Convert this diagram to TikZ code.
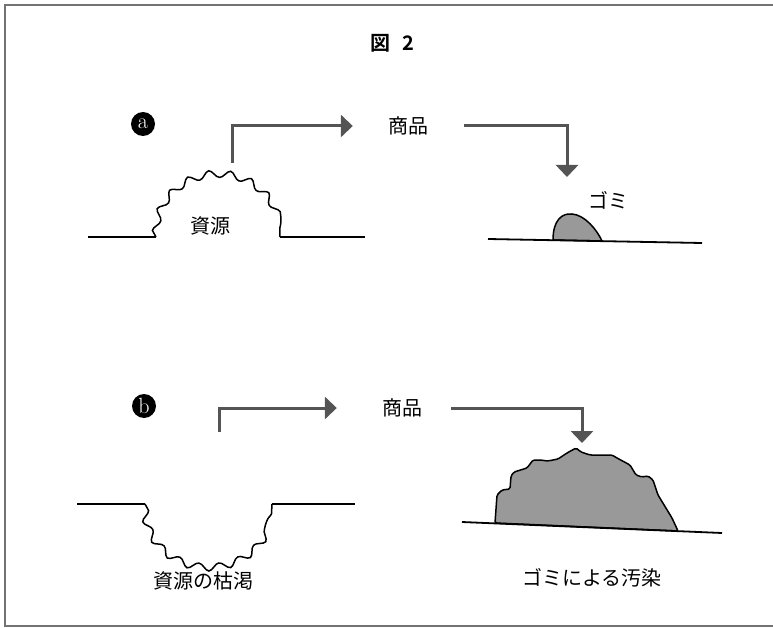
\documentclass[tikz,border=0pt]{standalone}
\usepackage{fontspec}
\newfontfamily\jp{Noto Sans CJK JP}[BoldFont={Noto Sans CJK JP Bold}]
\usetikzlibrary{arrows.meta,decorations.pathmorphing}

\tikzset{
  flow/.style={draw=black!67, line width=3pt, -{Triangle[width=22pt,length=12pt]}},
  ground/.style={line width=1.8pt},
  wavy/.style={line width=1.5pt, decorate,
    decoration={snake, amplitude=3.6pt, segment length=21pt}},
  word/.style={font=\jp\fontsize{20}{20}\selectfont, inner sep=0pt},
  badge/.style={shape=circle, fill=black, text=white, inner sep=0pt,
    minimum width=24pt, minimum height=24pt, font=\fontsize{22}{22}\selectfont},
  waste/.style={draw, line width=1.5pt, fill=black!40},
}

\begin{document}
\begin{tikzpicture}[x=1pt,y=-1pt]
   \useasboundingbox (0,0) rectangle (773,628);
   % frame
   \draw[black!55, line width=2pt] (773,5) -- (5,5) -- (5,626) -- (773,626);

   \node[word, font=\jp\bfseries\fontsize{20}{20}\selectfont] (title) at (392,43) {図\hspace{12pt}2};

   % --- case a ---
   \node[badge] (tag-a) at (143,124) {a};
   \node[word] (goods-a) at (408,126) {商品};
   \node[word] (res-a) at (210,226) {資源};
   \node[word] (waste-a) at (608,200) {ゴミ};

   \coordinate (hill-a) at (232,163);
   \coordinate (heap-a) at (567,177);
   \draw[flow] (hill-a) |- ([xshift=-35pt]goods-a.west);
   \draw[flow] ([xshift=36pt]goods-a.east) -| (heap-a);

   \draw[ground] (88,237) -- (156,237);
   \draw[wavy] (156,237) arc[start angle=180, end angle=360, x radius=62, y radius=58];
   \draw[ground] (280,237) -- (365,237);

   \draw[waste] (553,240) .. controls (553,220) and (562,213) .. (572,214)
      .. controls (585,215) and (597,230) .. (602,241) -- cycle;
   \draw[ground] (488,239) -- (702,243);

   % --- case b ---
   \node[badge] (tag-b) at (144,406) {b};
   \node[word] (goods-b) at (402,408) {商品};
   \node[word] (res-b) at (203,581) {資源の枯渇};
   \node[word] (waste-b) at (592,578) {ゴミによる汚染};

   \coordinate (hole-b) at (219,432);
   \coordinate (heap-b) at (582,443);
   \draw[flow] (hole-b) |- ([xshift=-45pt]goods-b.west);
   \draw[flow] ([xshift=29pt]goods-b.east) -| (heap-b);

   \draw[ground] (77,504) -- (145,504);
   \draw[wavy] (145,504) arc[start angle=180, end angle=0, x radius=63.5, y radius=58];
   \draw[ground] (272,504) -- (355,504);

   \draw[waste, rounded corners=1.5pt] (495,523) -- (497,495) -- (502,490) -- (510,489)
      -- (511,476) -- (514,472) -- (527,468) -- (533,460) -- (540,460) -- (548,461)
      -- (558,459) -- (567,453) -- (576,448) -- (581,452) -- (590,455) -- (612,455)
      -- (617,458) -- (630,465) -- (636,475) -- (642,477) -- (648,476) -- (653,480)
      -- (658,495) -- (672,518) -- (678,531) -- cycle;
   \draw[ground] (462,522) -- (722,533);
\end{tikzpicture}
\end{document}
